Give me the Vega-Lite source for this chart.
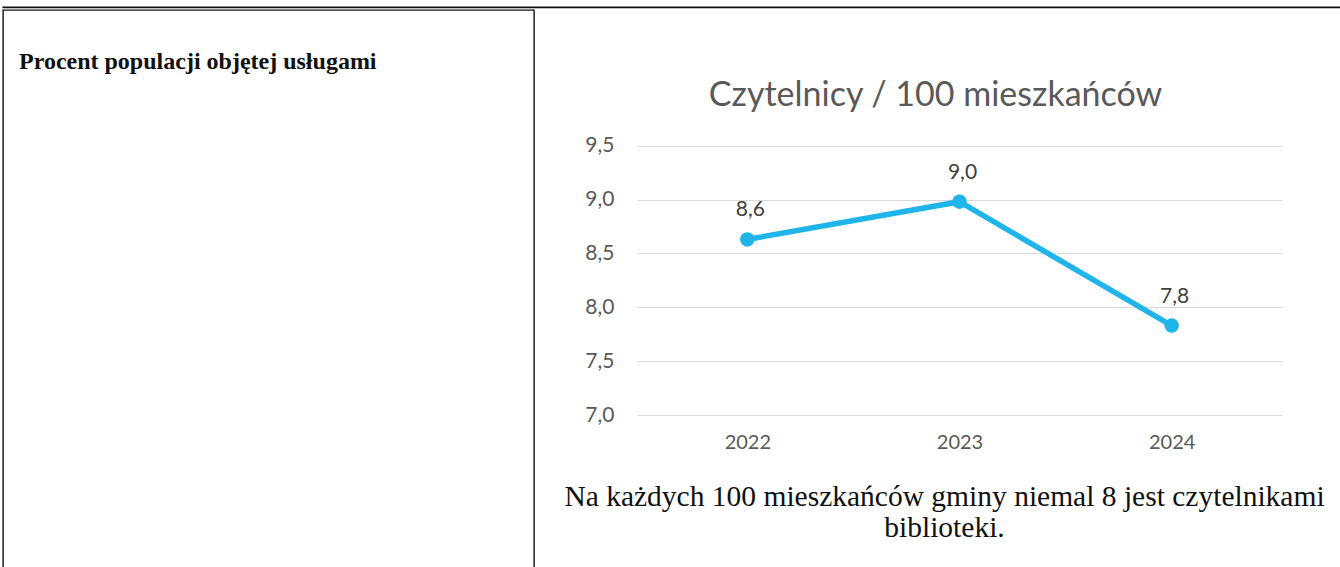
{
  "$schema": "https://vega.github.io/schema/vega-lite/v6.json",
  "padding": {"left": 2, "top": 6, "right": 0, "bottom": 0},
  "background": "white",
  "spacing": 0,
  "config": {
    "locale": {"number": {"decimal": ",", "thousands": "\u00a0", "grouping": [3], "currency": ["", " zł"]}}
  },
  "vconcat": [
    {
      "width": 1338,
      "height": 0.5,
      "data": {"values": []},
      "mark": {"type": "rule"},
      "encoding": {},
      "view": {"stroke": "#111111", "strokeWidth": 1.4}
    },
    {
      "spacing": 28,
      "hconcat": [
        {
          "width": 531,
          "height": 570,
          "data": {"values": []},
          "mark": {"type": "rule"},
          "encoding": {},
          "view": {"stroke": "#111111", "strokeWidth": 1.4},
          "title": {
            "text": "Procent populacji objętej usługami",
            "anchor": "start",
            "offset": -83,
            "dx": 16,
            "baseline": "alphabetic",
            "font": "Liberation Serif",
            "fontSize": 24,
            "fontWeight": "bold",
            "color": "#111111"
          }
        },
        {
          "width": 645,
          "height": 405,
          "data": {"values": [
            {"year": "2022", "value": 8.63},
            {"year": "2023", "value": 8.98},
            {"year": "2024", "value": 7.83}
          ]},
          "view": {"stroke": null},
          "title": {
            "text": "Czytelnicy / 100 mieszkańców",
            "anchor": "middle",
            "offset": -130,
            "dx": -24,
            "baseline": "alphabetic",
            "font": "Lato",
            "fontSize": 34,
            "fontWeight": "normal",
            "color": "#595959"
          },
          "encoding": {
            "x": {
              "field": "year",
              "type": "ordinal",
              "scale": {"type": "point", "padding": 0.52},
              "axis": {
                "title": ["Na każdych 100 mieszkańców gminy niemal 8 jest czytelnikami", "biblioteki."],
                "titleFont": "Liberation Serif",
                "titleFontSize": 29.5,
                "titleFontWeight": "normal",
                "titleColor": "#111111",
                "titleLineHeight": 31,
                "titleX": 307,
                "titleY": 67,
                "titleBaseline": "top",
                "titleAlign": "center",
                "labelAngle": 0,
                "labelFont": "Lato",
                "labelFontSize": 20,
                "labelColor": "#595959",
                "labelPadding": 17,
                "ticks": false,
                "domain": false,
                "grid": false
              }
            },
            "y": {
              "field": "value",
              "type": "quantitative",
              "scale": {"domain": [7, 10.76], "nice": false, "zero": false},
              "axis": {
                "values": [7, 7.5, 8, 8.5, 9, 9.5],
                "format": ".1f",
                "title": null,
                "labelFont": "Lato",
                "labelFontSize": 21,
                "labelColor": "#595959",
                "labelPadding": 23,
                "ticks": false,
                "domain": false,
                "grid": true,
                "gridColor": "#d9d9d9",
                "gridWidth": 1
              }
            }
          },
          "layer": [
            {"mark": {"type": "line", "color": "#1FB5EA", "strokeWidth": 5.5}},
            {"mark": {"type": "point", "filled": true, "size": 210, "color": "#1FB5EA", "opacity": 1}},
            {
              "mark": {"type": "text", "dy": -29, "dx": 3, "font": "Lato", "fontSize": 21, "color": "#404040"},
              "encoding": {"text": {"field": "value", "type": "quantitative", "format": ".1f"}}
            }
          ]
        }
      ]
    }
  ]
}
